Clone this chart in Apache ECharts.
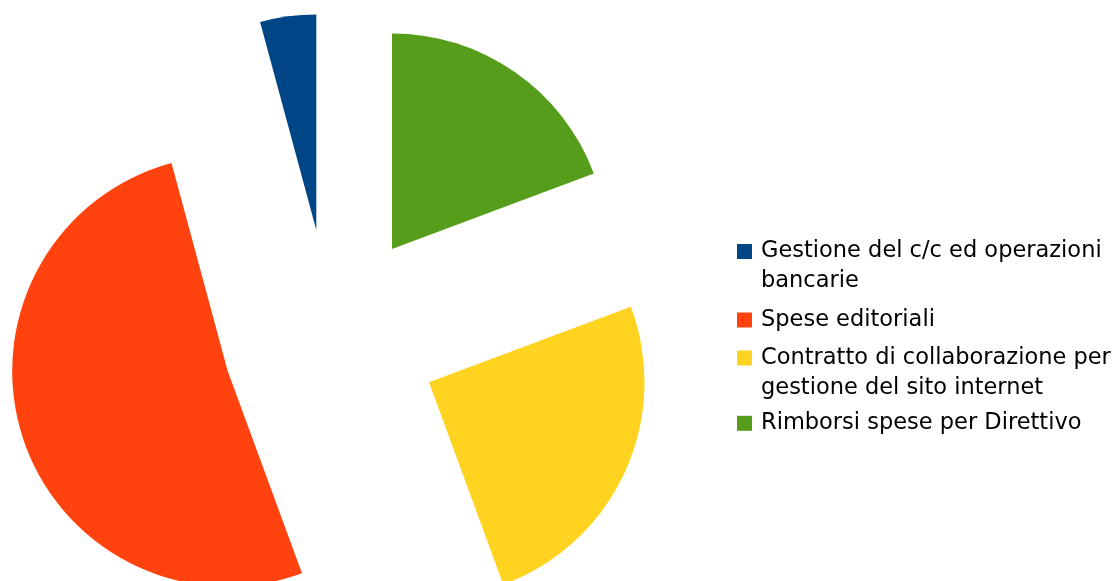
<!DOCTYPE html>
<html>
<head>
<meta charset="utf-8">
<script src="https://cdn.jsdelivr.net/npm/echarts@6/dist/echarts.min.js"></script>
<style>
  html, body { margin: 0; padding: 0; background: #ffffff; }
  #chart { width: 1115px; height: 581px; }
</style>
</head>
<body>
<div id="chart"></div>
<script>
// ---- data ----
const categories = [
  'Gestione del c/c ed operazioni bancarie',
  'Spese editoriali',
  'Contratto di collaborazione per gestione del sito internet',
  'Rimborsi spese per Direttivo'
];
const legendLabels = [
  'Gestione del c/c ed operazioni\nbancarie',
  'Spese editoriali',
  'Contratto di collaborazione per\ngestione del sito internet',
  'Rimborsi spese per Direttivo'
];
const values = [4.2, 51.4, 25.1, 19.3];

// ---- styling / layout ----
const colors = ['#004586', '#ff420e', '#ffd320', '#579d1c'];
const sliceCenters = [[316.3, 230], [227.7, 371], [429, 382.3], [392, 249]];
const legendTops = [206.5, 305, 313, 408.3];

const chart = echarts.init(document.getElementById('chart'), null, { renderer: 'canvas' });

const series = categories.map((cat, i) => ({
  type: 'pie',
  name: cat,
  center: sliceCenters[i],
  radius: 215.5,
  startAngle: 90,
  clockwise: false,
  silent: true,
  animation: false,
  label: { show: false },
  labelLine: { show: false },
  emphasis: { disabled: true },
  itemStyle: { borderWidth: 0 },
  data: categories.map((n, j) => ({
    name: n,
    value: values[j],
    itemStyle: { color: j === i ? colors[j] : 'rgba(0,0,0,0)', borderWidth: 0 }
  }))
}));

const legends = categories.map((cat, i) => {
  const twoLines = legendLabels[i].indexOf('\n') >= 0;
  // a leading empty line keeps the icon level with the first text line
  const shown = twoLines ? '\n' + legendLabels[i] : legendLabels[i];
  return {
    orient: 'vertical',
    left: 737,
    top: legendTops[i],
    padding: 0,
    itemWidth: 15,
    itemHeight: 15,
    icon: 'rect',
    selectedMode: false,
    formatter: () => shown,
    textStyle: {
      fontFamily: 'DejaVu Sans',
      fontSize: 22.5,
      color: '#000000',
      lineHeight: 30,
      padding: [0, 0, 0, 4]
    },
    data: [{
      name: cat,
      icon: 'rect',
      itemStyle: { color: colors[i], opacity: 1, borderWidth: 0 }
    }]
  };
});

chart.setOption({
  backgroundColor: '#ffffff',
  animation: false,
  legend: legends,
  series: series
});
</script>
</body>
</html>
